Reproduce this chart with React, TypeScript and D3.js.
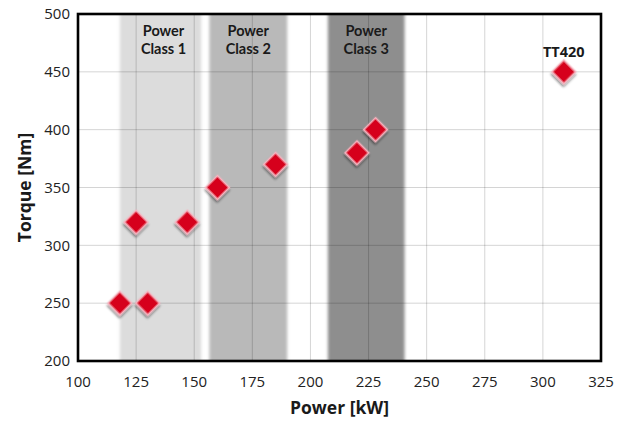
import * as d3 from 'd3';
import { useEffect, useRef } from 'react';

// readings from the picture
const powerKw = [118, 125, 130, 147, 160, 185, 220, 228, 309];
const torqueNm = [250, 320, 250, 320, 350, 370, 380, 400, 450];
const xTicks = [100, 125, 150, 175, 200, 225, 250, 275, 300, 325];
const yTicks = [200, 250, 300, 350, 400, 450, 500];
const classLine1 = ['Power', 'Power', 'Power'];
const classLine2 = ['Class 1', 'Class 2', 'Class 3'];
const classStart = [118, 156.5, 207.5];
const classEnd = [153, 190, 240.5];
const classFill = ['#dcdcdc', '#b9b9b9', '#8e8e8e'];

const width = 640;
const height = 425;
const margins = { top: 14, right: 39, bottom: 64, left: 78 };
const font = "'Open Sans', 'DejaVu Sans', sans-serif";

export default function App() {
    const svgRef = useRef<SVGSVGElement>(null);

    useEffect(() => {
        const svg = d3.select(svgRef.current);
        svg.selectAll('*').remove();

        const x = d3.scaleLinear().domain([100, 325]).range([margins.left, width - margins.right]);
        const y = d3.scaleLinear().domain([200, 500]).range([height - margins.bottom, margins.top]);

        const defs = svg.append('defs');
        defs.append('filter')
            .attr('id', 'soft')
            .attr('x', '-20%')
            .attr('width', '140%')
            .append('feGaussianBlur')
            .attr('stdDeviation', '1.6 0');
        const shadow = defs.append('filter').attr('id', 'shadow').attr('x', '-50%').attr('y', '-50%').attr('width', '200%').attr('height', '200%');
        shadow.append('feDropShadow')
            .attr('dx', 1.5)
            .attr('dy', 2)
            .attr('stdDeviation', 1.2)
            .attr('flood-color', '#000')
            .attr('flood-opacity', 0.45);
        defs.append('clipPath')
            .attr('id', 'plot')
            .append('rect')
            .attr('x', x(100))
            .attr('y', y(500))
            .attr('width', x(325) - x(100))
            .attr('height', y(200) - y(500));

        const plot = svg.append('g').attr('clip-path', 'url(#plot)');

        // power class bands
        plot.selectAll('.band')
            .data(classStart)
            .enter()
            .append('rect')
            .attr('class', 'band')
            .attr('x', (d) => x(d))
            .attr('y', y(500) - 5)
            .attr('width', (d, i) => x(classEnd[i]) - x(d))
            .attr('height', y(200) - y(500) + 10)
            .attr('fill', (_, i) => classFill[i])
            .attr('filter', 'url(#soft)');

        // grid
        plot.selectAll('.vgrid')
            .data(xTicks)
            .enter()
            .append('line')
            .attr('x1', (d) => x(d))
            .attr('x2', (d) => x(d))
            .attr('y1', y(500))
            .attr('y2', y(200))
            .attr('stroke', '#000')
            .attr('stroke-opacity', 0.17)
            .attr('stroke-width', 1);
        plot.selectAll('.hgrid')
            .data(yTicks)
            .enter()
            .append('line')
            .attr('x1', x(100))
            .attr('x2', x(325))
            .attr('y1', (d) => y(d))
            .attr('y2', (d) => y(d))
            .attr('stroke', '#000')
            .attr('stroke-opacity', 0.17)
            .attr('stroke-width', 1);

        // frame
        svg.append('rect')
            .attr('x', x(100))
            .attr('y', y(500))
            .attr('width', x(325) - x(100))
            .attr('height', y(200) - y(500))
            .attr('fill', 'none')
            .attr('stroke', '#000')
            .attr('stroke-width', 2.6);

        // class labels
        const labelX = (i: number) => x((classStart[i] + classEnd[i]) / 2) + (i === 0 ? 3 : 0);
        [classLine1, classLine2].forEach((lines, row) => {
            svg.selectAll('.cl' + row)
                .data(lines)
                .enter()
                .append('text')
                .attr('x', (_, i) => labelX(i))
                .attr('y', row === 0 ? 36 : 53.5)
                .attr('text-anchor', 'middle')
                .attr('font-family', "Lato, 'Open Sans', sans-serif")
                .attr('font-weight', 700)
                .attr('font-size', 14.5)
                .attr('fill', '#1a1a1a')
                .text((d) => d);
        });

        // points
        const pts = powerKw.map((p, i) => ({ p, t: torqueNm[i] }));
        svg.selectAll('.pt')
            .data(pts)
            .enter()
            .append('path')
            .attr('class', 'pt')
            .attr('d', d3.symbol(d3.symbolSquare, 280)())
            .attr('transform', (d) => `translate(${x(d.p)},${y(d.t)}) rotate(45)`)
            .attr('fill', '#d6001c')
            .attr('stroke', '#f6b3bf')
            .attr('stroke-width', 1.6)
            .attr('filter', 'url(#shadow)');

        svg.append('text')
            .attr('x', x(309))
            .attr('y', 57)
            .attr('text-anchor', 'middle')
            .attr('font-family', font)
            .attr('font-weight', 700)
            .attr('font-size', 14.5)
            .attr('fill', '#1a1a1a')
            .text('TT420');

        // tick labels
        svg.selectAll('.xt')
            .data(xTicks)
            .enter()
            .append('text')
            .attr('x', (d) => x(d))
            .attr('y', 387)
            .attr('text-anchor', 'middle')
            .attr('font-family', font)
            .attr('font-size', 15)
            .attr('fill', '#222')
            .text((d) => d);
        svg.selectAll('.yt')
            .data(yTicks)
            .enter()
            .append('text')
            .attr('x', 70)
            .attr('y', (d) => y(d))
            .attr('dy', '0.35em')
            .attr('text-anchor', 'end')
            .attr('font-family', font)
            .attr('font-size', 15)
            .attr('fill', '#222')
            .text((d) => d);

        // axis titles
        svg.append('text')
            .attr('x', (x(100) + x(325)) / 2)
            .attr('y', 414)
            .attr('text-anchor', 'middle')
            .attr('font-family', font)
            .attr('font-weight', 700)
            .attr('font-size', 17.5)
            .attr('fill', '#1a1a1a')
            .text('Power [kW]');
        svg.append('text')
            .attr('transform', `translate(31, ${(y(200) + y(500)) / 2}) rotate(-90)`)
            .attr('text-anchor', 'middle')
            .attr('font-family', font)
            .attr('font-weight', 700)
            .attr('font-size', 17.5)
            .attr('fill', '#1a1a1a')
            .text('Torque [Nm]');
    }, []);

    return (
        <svg
            ref={svgRef}
            width={width}
            height={height}
            viewBox={`0 0 ${width} ${height}`}
            style={{ position: 'absolute', left: 0, top: 0, background: '#fff' }}
        />
    );
}
